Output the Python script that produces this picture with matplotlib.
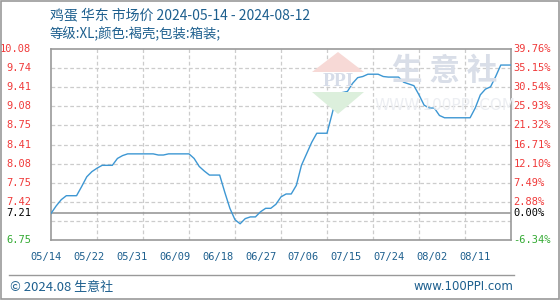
import matplotlib
matplotlib.use("Agg")
import matplotlib.pyplot as plt
from matplotlib.patches import Rectangle, Polygon

# ---------------- data ----------------
title_line1 = "鸡蛋 华东 市场价 2024-05-14 - 2024-08-12"
title_line2 = "等级:XL;颜色:褐壳;包装:箱装;"
x_labels = ["05/14", "05/22", "05/31", "06/09", "06/18", "06/27",
            "07/06", "07/15", "07/24", "08/02", "08/11"]
left_labels = ["10.08", "9.74", "9.41", "9.08", "8.75", "8.41", "8.08", "7.75", "7.42"]
right_labels = ["39.76%", "35.15%", "30.54%", "25.93%", "21.32%", "16.71%",
                "12.10%", "7.49%", "2.88%"]
base_label = "7.21"
base_pct = "0.00%"
min_label = "6.75"
min_pct = "-6.34%"
y_top = 10.08
y_bottom = 6.747
base_value = 7.21

# daily prices 2024-05-14 .. 2024-08-12 (91 days)
prices = [
    7.21, 7.34, 7.45, 7.52, 7.52, 7.52, 7.68, 7.85, 7.94, 8.00,
    8.05, 8.05, 8.05, 8.17, 8.22, 8.25, 8.25, 8.25, 8.25, 8.25,
    8.25, 8.23, 8.23, 8.25, 8.25, 8.25, 8.25, 8.25, 8.17, 8.03,
    7.95, 7.88, 7.88, 7.88, 7.58, 7.30, 7.10, 7.03, 7.12, 7.15,
    7.15, 7.24, 7.30, 7.30, 7.37, 7.50, 7.55, 7.55, 7.70, 8.05,
    8.25, 8.45, 8.61, 8.61, 8.61, 8.95, 9.30, 9.32, 9.34, 9.48,
    9.58, 9.60, 9.64, 9.64, 9.64, 9.60, 9.59, 9.59, 9.59, 9.50,
    9.47, 9.44, 9.28, 9.10, 9.05, 9.05, 8.92, 8.88, 8.88, 8.88,
    8.88, 8.88, 8.88, 9.05, 9.28, 9.38, 9.42, 9.60, 9.80, 9.80,
    9.80,
]
days = list(range(len(prices)))

# ---------------- figure ----------------
W, H = 560, 300
fig = plt.figure(figsize=(W / 100, H / 100), dpi=100)
fig.patch.set_facecolor("white")

def fx(px):
    return px / W

def fy(py):
    return 1 - py / H

ax_l, ax_r, ax_t, ax_b = 51, 511, 49, 240
ax = fig.add_axes([fx(ax_l), fy(ax_b), (ax_r - ax_l) / W, (ax_b - ax_t) / H])
ax.set_xlim(0, len(prices) - 1)
ax.set_ylim(y_bottom, y_top)
ax.set_facecolor("none")

step = (y_top - y_bottom) / 10
grid_col = "#cccccc"
for k in range(1, 10):
    ax.axhline(y_top - k * step, color=grid_col, lw=0.9, ls=(0, (3, 2)), zorder=1)
for k in range(1, 10):
    ax.axvline(k * 9, color=grid_col, lw=0.9, ls=(0, (3, 2)), zorder=1)
ax.axhline(base_value, color="#999999", lw=1.2, zorder=2)

for s in ax.spines.values():
    s.set_color("#999999")
    s.set_linewidth(1.2)
ax.set_xticks([])
ax.set_yticks([])

# watermark
wm = "#d9dee8"
fig.patches.append(Polygon([[fx(312), fy(72)], [fx(338), fy(52)], [fx(364), fy(72)]],
                           closed=True, transform=fig.transFigure,
                           facecolor="#f7d9d6", edgecolor="none", zorder=0))
fig.patches.append(Polygon([[fx(312), fy(92)], [fx(338), fy(114)], [fx(364), fy(92)]],
                           closed=True, transform=fig.transFigure,
                           facecolor="#dcefdc", edgecolor="none", zorder=0))
fig.text(fx(338), fy(82), "PPI", ha="center", va="center", fontsize=14,
         family="Liberation Serif", fontweight="bold", color="#d6dce8", zorder=0)
fig.text(fx(445), fy(71), "生 意 社", ha="center", va="center", fontsize=22,
         family=["Noto Sans CJK SC", "DejaVu Sans"], fontweight="bold",
         color=wm, zorder=0)
fig.text(fx(445), fy(106), "WWW.100PPI.COM", ha="center", va="center", fontsize=11,
         family="DejaVu Sans", color="#eceef2", zorder=0)

ax.plot(days, prices, color="#3d97d3", lw=1.0, zorder=5)

# y labels
mono = "DejaVu Sans Mono"
red = "#f03a3a"
green = "#33aa33"
for k, (ll, rl) in enumerate(zip(left_labels, right_labels)):
    yv = y_top - k * step
    ax.text(-0.043, (yv - y_bottom) / (y_top - y_bottom), ll, transform=ax.transAxes,
            ha="right", va="center", fontsize=7.5, family=mono, color=red)
    ax.text(1.005, (yv - y_bottom) / (y_top - y_bottom), rl, transform=ax.transAxes,
            ha="left", va="center", fontsize=7.5, family=mono, color=red)
yb = (base_value - y_bottom) / (y_top - y_bottom)
ax.text(-0.043, yb, base_label, transform=ax.transAxes, ha="right", va="center",
        fontsize=7.5, family=mono, color="black")
ax.text(1.005, yb, base_pct, transform=ax.transAxes, ha="left", va="center",
        fontsize=7.5, family=mono, color="black")
ax.text(-0.043, 0, min_label, transform=ax.transAxes, ha="right", va="center",
        fontsize=7.5, family=mono, color=green)
ax.text(1.005, 0, min_pct, transform=ax.transAxes, ha="left", va="center",
        fontsize=7.5, family=mono, color=green)

# x labels (evenly spaced as in the reference)
blue_txt = "#1d5f8e"
n = len(x_labels)
for i, lab in enumerate(x_labels):
    px = 46 + i * (475 - 46) / (n - 1)
    fig.text(fx(px), fy(257), lab, ha="center", va="center", fontsize=7.5,
             family=mono, color=blue_txt)

# titles
cjk = ["Noto Sans CJK SC", "DejaVu Sans"]
fig.text(fx(50), fy(15), title_line1, ha="left", va="center", fontsize=10,
         family=cjk, color=blue_txt)
fig.text(fx(50), fy(34), title_line2, ha="left", va="center", fontsize=9.6,
         family=cjk, color=blue_txt)

# footer
fig.add_artist(plt.Line2D([fx(9), fx(514)], [fy(275), fy(275)],
                          transform=fig.transFigure, color="#999999", lw=1))
fig.text(fx(10), fy(287), "© 2024.08 生意社", ha="left", va="center", fontsize=9.4,
         family=cjk, color=blue_txt)
fig.text(fx(513), fy(287), "www.100PPI.com", ha="right", va="center", fontsize=8.5,
         family="DejaVu Sans", color=blue_txt)

# outer frame
fig.patches.append(Rectangle((0.001, 0.002), 0.997, 0.995, transform=fig.transFigure,
                             fill=False, edgecolor="#999999", lw=1.2))

fig.savefig("out.png", dpi=100, facecolor="white")
